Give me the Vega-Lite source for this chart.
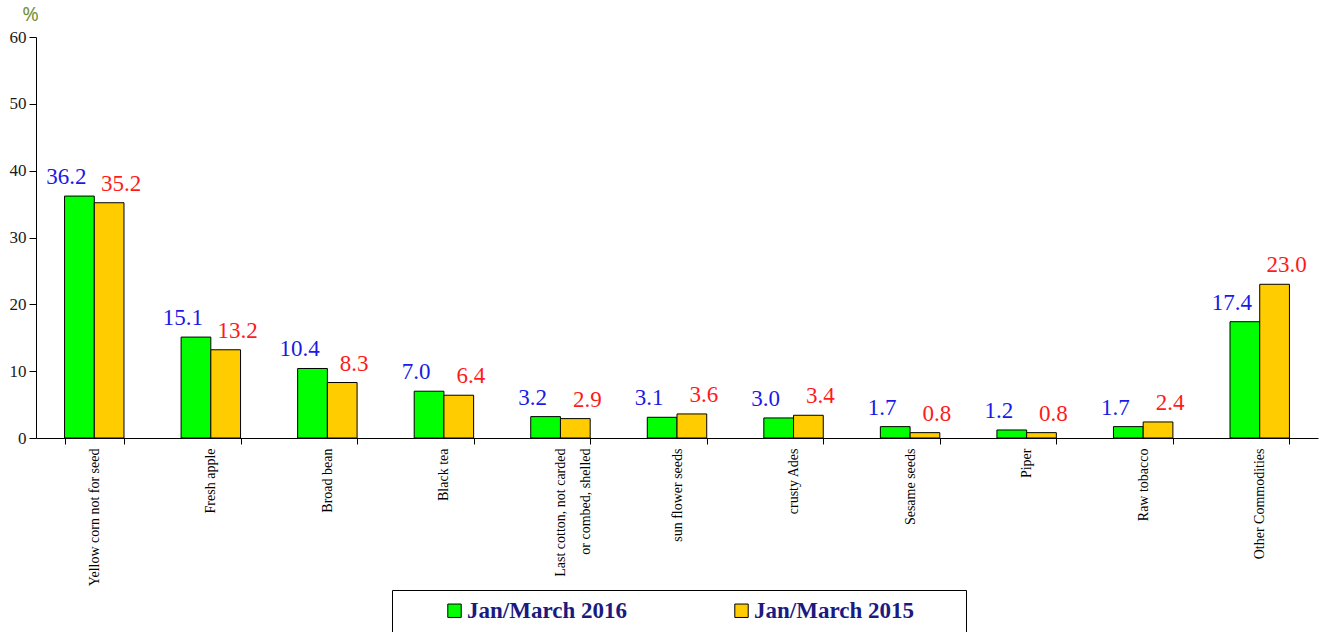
{
  "$schema": "https://vega.github.io/schema/vega-lite/v6.json",
  "width": 1282,
  "height": 401,
  "autosize": {"type": "none"},
  "padding": {"left": 36, "top": 37, "right": 15, "bottom": 194},
  "background": "white",
  "config": {"view": {"stroke": null}},
  "data": {
    "values": [
      {"item": "Yellow corn not for seed", "period": "Jan/March 2016", "value": 36.2},
      {"item": "Yellow corn not for seed", "period": "Jan/March 2015", "value": 35.2},
      {"item": "Fresh apple", "period": "Jan/March 2016", "value": 15.1},
      {"item": "Fresh apple", "period": "Jan/March 2015", "value": 13.2},
      {"item": "Broad bean", "period": "Jan/March 2016", "value": 10.4},
      {"item": "Broad bean", "period": "Jan/March 2015", "value": 8.3},
      {"item": "Black tea", "period": "Jan/March 2016", "value": 7.0},
      {"item": "Black tea", "period": "Jan/March 2015", "value": 6.4},
      {"item": "Last cotton, not carded or combed, shelled", "period": "Jan/March 2016", "value": 3.2},
      {"item": "Last cotton, not carded or combed, shelled", "period": "Jan/March 2015", "value": 2.9},
      {"item": "sun flower seeds", "period": "Jan/March 2016", "value": 3.1},
      {"item": "sun flower seeds", "period": "Jan/March 2015", "value": 3.6},
      {"item": "crusty Ades", "period": "Jan/March 2016", "value": 3.0},
      {"item": "crusty Ades", "period": "Jan/March 2015", "value": 3.4},
      {"item": "Sesame seeds", "period": "Jan/March 2016", "value": 1.7},
      {"item": "Sesame seeds", "period": "Jan/March 2015", "value": 0.8},
      {"item": "Piper", "period": "Jan/March 2016", "value": 1.2},
      {"item": "Piper", "period": "Jan/March 2015", "value": 0.8},
      {"item": "Raw tobacco", "period": "Jan/March 2016", "value": 1.7},
      {"item": "Raw tobacco", "period": "Jan/March 2015", "value": 2.4},
      {"item": "Other Commodities", "period": "Jan/March 2016", "value": 17.4},
      {"item": "Other Commodities", "period": "Jan/March 2015", "value": 23.0}
    ]
  },
  "encoding": {
    "x": {
      "field": "item",
      "type": "nominal",
      "sort": null,
      "scale": {"paddingInner": 0.49, "paddingOuter": 0.245},
      "axis": {
        "title": null,
        "labelAngle": -90,
        "labelFont": "Liberation Serif",
        "labelFontSize": 14,
        "labelColor": "black",
        "labelPadding": 4,
        "labelLimit": 300,
        "labelLineHeight": 25,
        "labelExpr": "datum.value == 'Last cotton, not carded or combed, shelled' ? ['Last cotton, not carded', 'or combed, shelled'] : datum.label",
        "tickBand": "extent",
        "tickSize": 6,
        "tickColor": "black",
        "domainColor": "black",
        "domainWidth": 1
      }
    },
    "xOffset": {
      "field": "period",
      "type": "nominal",
      "sort": null,
      "scale": {"domain": ["Jan/March 2016", "Jan/March 2015"]}
    },
    "y": {
      "field": "value",
      "type": "quantitative",
      "scale": {"domain": [0, 60]},
      "axis": {
        "values": [0, 10, 20, 30, 40, 50, 60],
        "grid": false,
        "title": "%",
        "titleAngle": 0,
        "titleX": -6,
        "titleY": -17,
        "titleAlign": "center",
        "titleBaseline": "alphabetic",
        "titleFont": "Noto Sans",
        "titleFontSize": 20,
        "titleFontWeight": "normal",
        "titleColor": "#76923C",
        "labelFont": "Liberation Serif",
        "labelFontSize": 17,
        "labelColor": "#1a1a1a",
        "labelPadding": 3,
        "tickSize": 7,
        "tickColor": "black",
        "domainColor": "black"
      }
    }
  },
  "layer": [
    {
      "mark": {"type": "bar", "stroke": "black", "strokeWidth": 1},
      "encoding": {
        "color": {
          "field": "period",
          "type": "nominal",
          "scale": {"domain": ["Jan/March 2016", "Jan/March 2015"], "range": ["#00FF00", "#FFCC00"]},
          "legend": {
            "orient": "none",
            "legendX": 356,
            "legendY": 553,
            "direction": "horizontal",
            "title": "\u00a0",
            "titleOrient": "left",
            "titlePadding": 42,
            "padding": 9,
            "strokeColor": "black",
            "fillColor": "white",
            "symbolType": "square",
            "symbolSize": 180,
            "symbolStrokeColor": "black",
            "symbolStrokeWidth": 1,
            "labelFont": "Liberation Serif",
            "labelFontSize": 23,
            "labelFontWeight": "bold",
            "labelColor": "#1a1a80",
            "labelOffset": 1,
            "labelLimit": 400,
            "columnPadding": 103,
            "labelExpr": "datum.value == 'Jan/March 2015' ? datum.label + '\u2003\u2002\u2004\u200b' : datum.label"
          }
        }
      }
    },
    {
      "transform": [{"filter": "datum.period == 'Jan/March 2016'"}],
      "mark": {"type": "text", "color": "#1a1ae6", "dx": -13, "dy": -19, "baseline": "middle", "font": "Liberation Serif", "fontSize": 23},
      "encoding": {"text": {"field": "value", "type": "quantitative", "format": ".1f"}}
    },
    {
      "transform": [{"filter": "datum.period == 'Jan/March 2015'"}],
      "mark": {"type": "text", "color": "#ff1a1a", "dx": 12, "dy": -19, "baseline": "middle", "font": "Liberation Serif", "fontSize": 23},
      "encoding": {"text": {"field": "value", "type": "quantitative", "format": ".1f"}}
    }
  ]
}
